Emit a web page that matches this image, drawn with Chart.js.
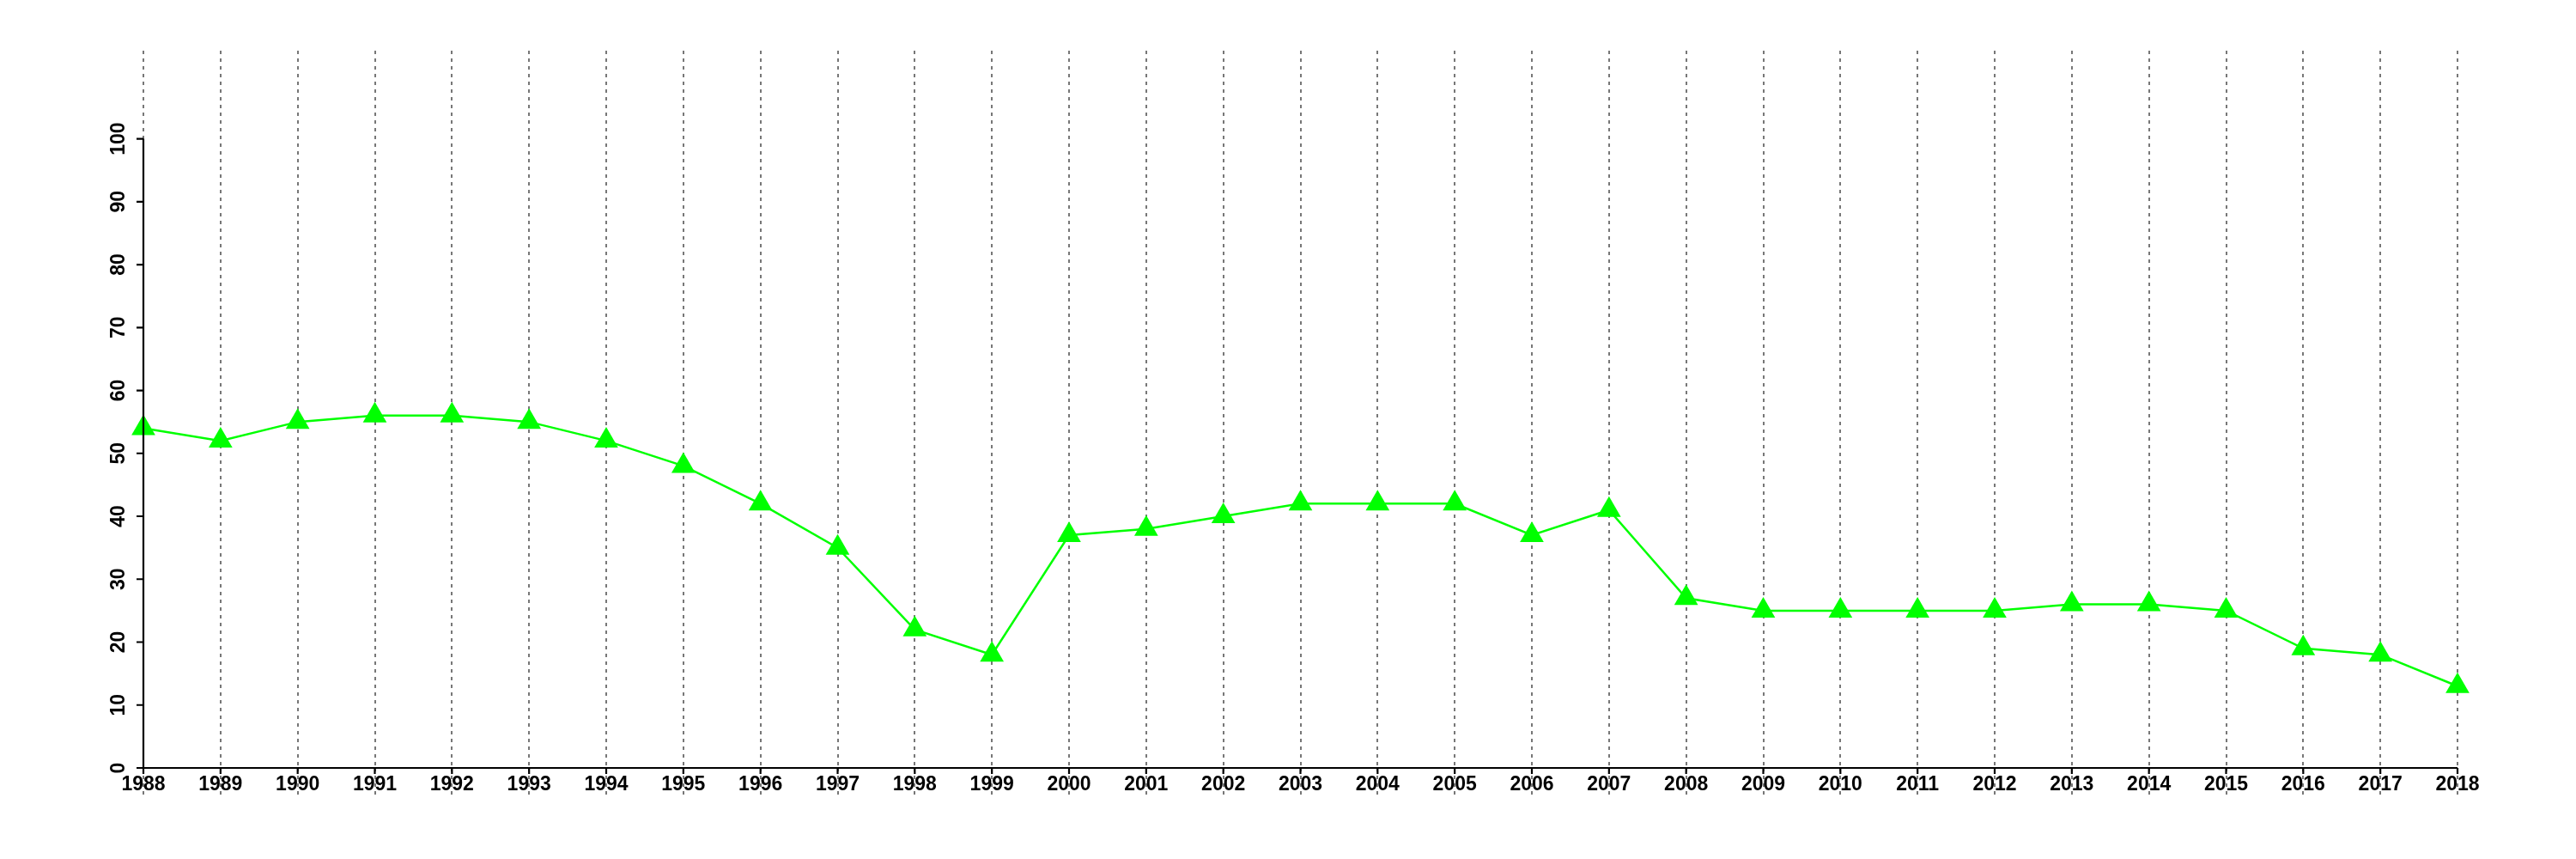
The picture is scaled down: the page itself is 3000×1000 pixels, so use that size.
<!DOCTYPE html>
<html>
<head>
<meta charset="utf-8">
<style>
  html, body { margin: 0; padding: 0; background: #fff; }
  #wrap { width: 3000px; height: 1000px; }
</style>
<script src="https://cdn.jsdelivr.net/npm/chart.js@4/dist/chart.umd.min.js"></script>
</head>
<body>
<div id="wrap"><canvas id="chart" width="3000" height="1000"></canvas></div>
<script>
const years = ['1988', '1989', '1990', '1991', '1992', '1993', '1994', '1995', '1996', '1997',
  '1998', '1999', '2000', '2001', '2002', '2003', '2004', '2005', '2006', '2007',
  '2008', '2009', '2010', '2011', '2012', '2013', '2014', '2015', '2016', '2017', '2018'];
const values = [54, 52, 55, 56, 56, 55, 52, 48, 42, 35,
  22, 18, 37, 38, 40, 42, 42, 42, 37, 41,
  27, 25, 25, 25, 25, 26, 26, 25, 19, 18, 13];
const yTicks = [0, 10, 20, 30, 40, 50, 60, 70, 80, 90, 100];

const labelFont = 'bold 23px "Liberation Sans", Arial, sans-serif';

// base-graphics style axes: lines only over the tick range, rotated y labels
const axesPlugin = {
  id: 'axes',
  afterDatasetsDraw(chart) {
    const { ctx, scales: { x, y } } = chart;
    const y0 = y.getPixelForValue(0);
    const yTop = y.getPixelForValue(100);
    const xLeft = x.getPixelForValue(0);
    const xRight = x.getPixelForValue(years.length - 1);
    ctx.save();
    ctx.strokeStyle = '#000';
    ctx.lineWidth = 2.2;
    ctx.beginPath();
    ctx.moveTo(xLeft, y0);
    ctx.lineTo(xRight, y0);
    ctx.moveTo(xLeft, y0);
    ctx.lineTo(xLeft, yTop);
    years.forEach((_, i) => {
      const px = x.getPixelForValue(i);
      ctx.moveTo(px, y0);
      ctx.lineTo(px, y0 + 7);
    });
    yTicks.forEach(v => {
      const py = y.getPixelForValue(v);
      ctx.moveTo(xLeft, py);
      ctx.lineTo(xLeft - 8, py);
    });
    ctx.stroke();

    ctx.fillStyle = '#000';
    ctx.font = labelFont;
    ctx.textAlign = 'center';
    ctx.textBaseline = 'alphabetic';
    years.forEach((yr, i) => {
      ctx.fillText(yr, x.getPixelForValue(i), y0 + 26);
    });
    yTicks.forEach(v => {
      ctx.save();
      ctx.translate(xLeft - 22, y.getPixelForValue(v));
      ctx.rotate(-Math.PI / 2);
      ctx.fillText(String(v), 0, 0);
      ctx.restore();
    });
    ctx.restore();
  }
};

new Chart(document.getElementById('chart'), {
  type: 'line',
  data: {
    labels: years,
    datasets: [{
      data: values,
      borderColor: '#00ff00',
      backgroundColor: '#00ff00',
      borderWidth: 2.5,
      pointStyle: 'triangle',
      pointRadius: 16,
      pointBorderWidth: 0,
      tension: 0,
    }],
  },
  options: {
    responsive: false,
    animation: false,
    layout: {
      padding: { left: 167, right: 138, top: 59, bottom: 73 }
    },
    scales: {
      x: {
        offset: false,
        grid: {
          display: true,
          drawOnChartArea: true,
          drawTicks: true,
          tickLength: 33,
          color: '#777',
          lineWidth: 2,
          tickColor: '#777',
          tickWidth: 2,
          tickBorderDash: [4, 5],
        },
        border: { display: false, dash: [4, 5] },
        ticks: { display: false },
      },
      y: {
        display: false,
        min: 0,
        max: 114,
      }
    },
    plugins: {
      legend: { display: false },
      tooltip: { enabled: false },
    }
  },
  plugins: [axesPlugin]
});
</script>
</body>
</html>
